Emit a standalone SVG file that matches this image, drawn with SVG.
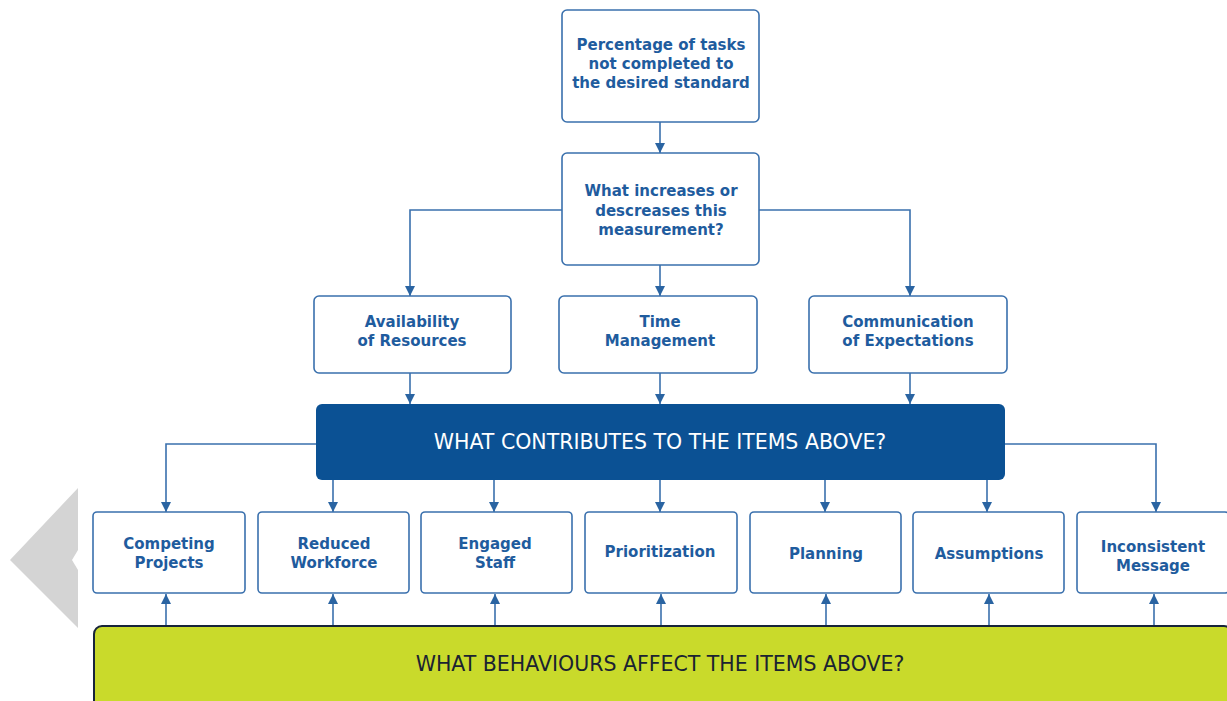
<svg xmlns="http://www.w3.org/2000/svg" width="1227" height="701" viewBox="0 0 1227 701">
  <defs>
    <marker id="arr" viewBox="0 0 10 10" refX="10" refY="5" markerWidth="10" markerHeight="10" markerUnits="userSpaceOnUse" orient="auto">
      <path d="M0,0 L10,5 L0,10 z" fill="#2a64a2"/>
    </marker>
    <style>
      .box { fill: #ffffff; stroke: #3a70ad; stroke-width: 1.6; }
      .lbl { font-family: "DejaVu Sans", "Liberation Sans", sans-serif; font-weight: 700; font-size: 15px; fill: #1f5c9e; text-anchor: middle; }
      .bar { font-family: "DejaVu Sans", "Liberation Sans", sans-serif; font-weight: 400; font-size: 20.5px; text-anchor: middle; }
      .wire { fill: none; stroke: #3a70ad; stroke-width: 1.6; }
    </style>
  </defs>

  <!-- side chevron -->
  <polygon points="10,560 78,488 78,550 72,560 78,570 78,628" fill="#d4d4d4"/>

  <g id="connectors">
    <path class="wire" d="M660,122 V153" marker-end="url(#arr)"/>
    <path class="wire" d="M562,210 H410 V296" marker-end="url(#arr)"/>
    <path class="wire" d="M660,265 V296" marker-end="url(#arr)"/>
    <path class="wire" d="M759,210 H910 V296" marker-end="url(#arr)"/>
    <path class="wire" d="M410,373 V404" marker-end="url(#arr)"/>
    <path class="wire" d="M660,373 V404" marker-end="url(#arr)"/>
    <path class="wire" d="M910,373 V404" marker-end="url(#arr)"/>
    <path class="wire" d="M316,444 H166 V512" marker-end="url(#arr)"/>
    <path class="wire" d="M333,480 V512" marker-end="url(#arr)"/>
    <path class="wire" d="M494,480 V512" marker-end="url(#arr)"/>
    <path class="wire" d="M660,480 V512" marker-end="url(#arr)"/>
    <path class="wire" d="M825,480 V512" marker-end="url(#arr)"/>
    <path class="wire" d="M987,480 V512" marker-end="url(#arr)"/>
    <path class="wire" d="M1005,444 H1156 V512" marker-end="url(#arr)"/>
    <path class="wire" d="M166,626 V594" marker-end="url(#arr)"/>
    <path class="wire" d="M333,626 V594" marker-end="url(#arr)"/>
    <path class="wire" d="M495,626 V594" marker-end="url(#arr)"/>
    <path class="wire" d="M661,626 V594" marker-end="url(#arr)"/>
    <path class="wire" d="M826,626 V594" marker-end="url(#arr)"/>
    <path class="wire" d="M989,626 V594" marker-end="url(#arr)"/>
    <path class="wire" d="M1154,626 V594" marker-end="url(#arr)"/>
  </g>

  <g id="metric">
    <rect class="box" x="562" y="10" width="197" height="112" rx="5"/>
    <text class="lbl"><tspan x="661" y="50">Percentage of tasks</tspan><tspan x="661" y="69">not completed to</tspan><tspan x="661" y="88">the desired standard</tspan></text>
  </g>
  <g id="question">
    <rect class="box" x="562" y="153" width="197" height="112" rx="5"/>
    <text class="lbl"><tspan x="661" y="196">What increases or</tspan><tspan x="661" y="216">descreases this</tspan><tspan x="661" y="235">measurement?</tspan></text>
  </g>
  <g id="resources">
    <rect class="box" x="314" y="296" width="197" height="77" rx="5"/>
    <text class="lbl"><tspan x="412" y="327">Availability</tspan><tspan x="412" y="346">of Resources</tspan></text>
  </g>
  <g id="time">
    <rect class="box" x="559" y="296" width="198" height="77" rx="5"/>
    <text class="lbl"><tspan x="660" y="327">Time</tspan><tspan x="660" y="346">Management</tspan></text>
  </g>
  <g id="communication">
    <rect class="box" x="809" y="296" width="198" height="77" rx="5"/>
    <text class="lbl"><tspan x="908" y="327">Communication</tspan><tspan x="908" y="346">of Expectations</tspan></text>
  </g>

  <g id="contributes">
    <rect x="316" y="404" width="689" height="76" rx="6" fill="#0b5194"/>
    <text class="bar" x="660" y="449" fill="#ffffff">WHAT CONTRIBUTES TO THE ITEMS ABOVE?</text>
  </g>

  <g id="competing">
    <rect class="box" x="93" y="512" width="152" height="81" rx="4"/>
    <text class="lbl"><tspan x="169" y="549">Competing</tspan><tspan x="169" y="568">Projects</tspan></text>
  </g>
  <g id="workforce">
    <rect class="box" x="258" y="512" width="151" height="81" rx="4"/>
    <text class="lbl"><tspan x="334" y="549">Reduced</tspan><tspan x="334" y="568">Workforce</tspan></text>
  </g>
  <g id="engaged">
    <rect class="box" x="421" y="512" width="151" height="81" rx="4"/>
    <text class="lbl"><tspan x="495" y="549">Engaged</tspan><tspan x="495" y="568">Staff</tspan></text>
  </g>
  <g id="prioritization">
    <rect class="box" x="585" y="512" width="152" height="81" rx="4"/>
    <text class="lbl" x="660" y="557">Prioritization</text>
  </g>
  <g id="planning">
    <rect class="box" x="750" y="512" width="151" height="81" rx="4"/>
    <text class="lbl" x="826" y="559">Planning</text>
  </g>
  <g id="assumptions">
    <rect class="box" x="913" y="512" width="151" height="81" rx="4"/>
    <text class="lbl" x="989" y="559">Assumptions</text>
  </g>
  <g id="inconsistent">
    <rect class="box" x="1077" y="512" width="152" height="81" rx="4"/>
    <text class="lbl"><tspan x="1153" y="552">Inconsistent</tspan><tspan x="1153" y="571">Message</tspan></text>
  </g>

  <g id="behaviours">
    <rect x="94" y="626" width="1138" height="84" rx="8" fill="#c9da2b" stroke="#17243a" stroke-width="2"/>
    <text class="bar" x="660" y="671" fill="#1b2331">WHAT BEHAVIOURS AFFECT THE ITEMS ABOVE?</text>
  </g>
</svg>
